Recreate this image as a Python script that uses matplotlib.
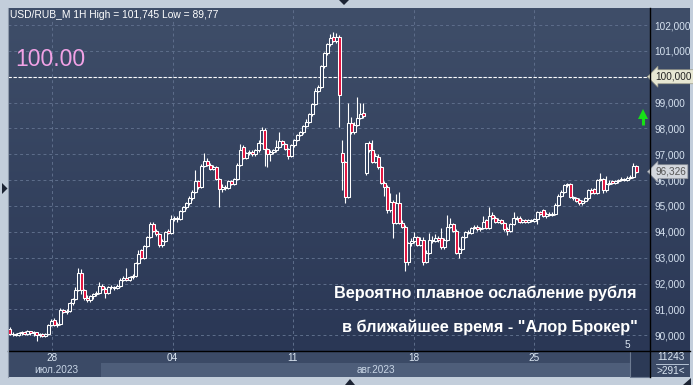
import matplotlib
matplotlib.use('Agg')
import matplotlib.pyplot as plt
import numpy as np
from matplotlib.patches import Rectangle, Polygon
from matplotlib.lines import Line2D
from matplotlib.collections import LineCollection
import matplotlib.transforms as mtransforms

plt.rcParams['font.family'] = ['Liberation Sans', 'DejaVu Sans']

# ---------------- data (USD/RUB_M 1H) ----------------
opens = [
    90.23, 90.04, 90.06, 90.02, 90.08, 90.12, 90.05, 90.15, 90.08, 90.12,
    90.02, 90.04, 89.98, 90.06, 90.40, 90.58, 90.40, 90.45, 90.97, 90.90,
    90.95, 91.25, 91.40, 91.75, 92.40, 91.74, 91.45, 91.35, 91.50, 91.60,
    91.62, 91.90, 91.80, 91.62, 91.85, 91.88, 91.82, 91.90, 92.15, 92.22,
    92.15, 92.25, 92.30, 92.80, 93.28, 93.00, 93.45, 93.80, 94.30, 94.05,
    93.90, 93.50, 93.65, 94.05, 93.95, 94.50, 94.55, 94.50, 94.80, 94.95,
    95.10, 95.30, 95.55, 95.95, 95.75, 96.55, 96.75, 96.60, 96.45, 96.50,
    96.05, 95.65, 95.75, 95.70, 95.95, 95.85, 96.05, 96.60, 97.28, 96.85,
    97.05, 97.10, 97.00, 97.15, 97.45, 97.95, 97.20, 97.00, 97.10, 97.15,
    97.30, 97.50, 97.40, 97.20, 96.95, 97.35, 97.55, 97.75, 97.85, 98.10,
    98.25, 98.55, 98.95, 99.45, 99.60, 100.40, 100.90, 101.25, 101.55, 101.40,
    101.55, 97.05, 96.70, 95.35, 98.20, 97.86, 98.15, 98.40, 98.60, 96.27,
    97.43, 97.16, 96.70, 96.90, 96.50, 95.88, 95.75, 94.84, 95.15, 94.35,
    95.10, 94.35, 94.20, 92.85, 93.55, 93.65, 93.80, 93.50, 93.70, 92.85,
    93.20, 93.70, 93.65, 93.75, 93.75, 93.40, 93.70, 94.20, 94.30, 94.05,
    93.20, 93.35, 93.80, 94.00, 93.95, 94.15, 94.20, 94.10, 94.15, 94.45,
    94.15, 94.65, 94.55, 94.40, 94.45, 94.35, 94.10, 94.05, 94.30, 94.55,
    94.55, 94.40, 94.45, 94.40, 94.45, 94.42, 94.50, 94.75, 94.85, 94.60,
    94.70, 94.65, 94.70, 95.05, 95.40, 95.55, 95.80, 95.85, 95.35, 95.30,
    95.25, 95.10, 95.20, 95.30, 95.60, 95.65, 95.50, 96.00, 96.05, 95.60,
    95.85, 95.95, 95.90, 95.95, 96.00, 96.05, 96.00, 96.10, 96.12, 96.55,
]
highs = [
    90.30, 90.12, 90.10, 90.14, 90.18, 90.15, 90.20, 90.18, 90.16, 90.14,
    90.08, 90.10, 90.10, 90.45, 90.62, 90.65, 90.50, 91.05, 91.02, 91.00,
    91.30, 91.45, 91.85, 92.60, 92.55, 91.80, 91.55, 91.55, 91.65, 91.70,
    92.05, 91.98, 91.85, 91.90, 91.95, 91.92, 91.98, 92.20, 92.30, 92.60,
    92.30, 92.35, 92.85, 93.30, 93.35, 93.50, 93.85, 94.40, 94.38, 94.12,
    93.95, 93.72, 94.05, 94.10, 94.65, 94.62, 94.60, 94.85, 95.00, 95.15,
    95.40, 95.62, 96.40, 96.02, 96.62, 97.05, 96.85, 96.68, 96.58, 96.55,
    96.10, 95.85, 95.80, 96.00, 96.02, 96.10, 96.68, 97.40, 97.35, 97.10,
    97.18, 97.15, 97.22, 97.55, 98.05, 98.00, 97.25, 97.15, 97.20, 97.55,
    97.86, 97.55, 97.45, 97.25, 97.40, 97.60, 97.80, 97.90, 98.15, 98.35,
    98.60, 99.00, 99.55, 99.70, 100.45, 100.95, 101.30, 101.65, 101.745, 101.70,
    101.60, 97.55, 96.75, 99.00, 98.45, 98.25, 99.20, 99.00, 99.00, 97.45,
    97.50, 97.55, 97.05, 97.00, 96.55, 95.95, 95.80, 95.50, 95.25, 95.45,
    95.55, 94.45, 94.25, 93.60, 93.75, 94.00, 93.85, 93.80, 93.80, 93.30,
    93.95, 93.85, 93.90, 93.85, 94.14, 93.75, 94.64, 94.55, 94.35, 94.10,
    93.40, 93.85, 94.05, 94.08, 94.20, 94.28, 94.25, 94.20, 94.60, 94.50,
    94.95, 94.75, 94.62, 94.52, 94.50, 94.40, 94.18, 94.35, 94.75, 94.62,
    94.60, 94.50, 94.50, 94.50, 94.50, 94.55, 94.80, 94.80, 94.90, 94.75,
    94.75, 94.75, 95.10, 95.45, 95.60, 95.85, 95.90, 95.88, 95.40, 95.35,
    95.30, 95.25, 95.35, 95.65, 95.68, 95.70, 96.05, 96.27, 96.10, 96.15,
    96.00, 96.00, 96.02, 96.05, 96.12, 96.10, 96.15, 96.18, 96.66, 96.60,
]
lows = [
    90.00, 89.98, 89.96, 89.98, 90.02, 90.00, 90.00, 90.02, 89.98, 89.77,
    89.92, 89.94, 89.95, 90.02, 90.35, 90.35, 90.32, 90.40, 90.85, 90.82,
    90.90, 91.18, 91.35, 91.70, 91.60, 91.38, 91.28, 91.30, 91.42, 91.52,
    91.58, 91.75, 91.45, 91.58, 91.78, 91.75, 91.78, 91.86, 92.10, 92.10,
    92.08, 92.18, 92.25, 92.75, 92.95, 92.95, 93.40, 93.75, 94.00, 93.85,
    93.40, 93.42, 93.60, 93.90, 93.90, 94.42, 94.40, 94.45, 94.75, 94.90,
    95.05, 95.25, 95.50, 95.65, 95.70, 96.50, 96.55, 96.40, 96.38, 96.00,
    94.95, 95.55, 95.60, 95.65, 95.80, 95.80, 96.00, 96.55, 96.80, 96.80,
    96.98, 96.92, 96.95, 97.10, 97.40, 96.55, 96.50, 96.75, 97.02, 97.10,
    97.25, 97.35, 97.15, 96.80, 96.90, 97.30, 97.50, 97.70, 97.80, 98.05,
    98.20, 98.50, 98.90, 99.40, 99.55, 100.35, 100.85, 101.20, 101.35, 101.30,
    98.05, 95.60, 95.10, 95.30, 97.80, 97.80, 98.10, 98.35, 98.40, 96.19,
    97.10, 96.65, 96.65, 96.45, 95.85, 95.40, 94.72, 94.75, 93.75, 94.30,
    94.30, 94.15, 92.50, 92.70, 93.45, 93.55, 93.45, 93.45, 92.70, 92.80,
    93.15, 93.55, 93.60, 93.62, 93.35, 93.35, 93.65, 94.15, 93.98, 93.15,
    93.00, 93.30, 93.75, 93.90, 93.90, 94.10, 94.05, 94.05, 94.10, 94.10,
    94.10, 94.50, 94.35, 94.35, 94.30, 94.05, 93.87, 94.00, 94.25, 94.45,
    94.35, 94.35, 94.35, 94.35, 94.38, 94.38, 94.30, 94.65, 94.58, 94.55,
    94.60, 94.60, 94.65, 95.00, 95.35, 95.50, 95.75, 95.30, 95.22, 95.15,
    95.05, 95.05, 95.15, 95.25, 95.45, 95.45, 95.45, 95.95, 95.50, 95.55,
    95.80, 95.85, 95.85, 95.90, 95.95, 95.95, 95.95, 96.05, 96.08, 96.28,
]
closes = [
    90.04, 90.06, 90.02, 90.08, 90.12, 90.05, 90.15, 90.08, 90.12, 90.02,
    90.04, 89.98, 90.06, 90.40, 90.55, 90.40, 90.45, 90.97, 90.90, 90.95,
    91.25, 91.40, 91.75, 92.40, 91.74, 91.45, 91.35, 91.50, 91.60, 91.62,
    91.90, 91.80, 91.62, 91.85, 91.88, 91.82, 91.90, 92.15, 92.20, 92.15,
    92.25, 92.30, 92.80, 93.15, 93.00, 93.45, 93.80, 94.30, 94.05, 93.90,
    93.50, 93.65, 94.00, 93.95, 94.50, 94.55, 94.50, 94.80, 94.95, 95.10,
    95.30, 95.55, 95.95, 95.75, 96.55, 96.75, 96.60, 96.45, 96.50, 96.05,
    95.65, 95.75, 95.70, 95.95, 95.85, 96.05, 96.60, 97.15, 96.85, 97.05,
    97.10, 97.00, 97.15, 97.45, 97.95, 97.20, 97.00, 97.10, 97.15, 97.30,
    97.50, 97.40, 97.20, 96.95, 97.35, 97.55, 97.75, 97.85, 98.10, 98.25,
    98.55, 98.95, 99.45, 99.60, 100.40, 100.90, 101.25, 101.50, 101.40, 101.55,
    99.30, 96.70, 95.35, 98.20, 97.86, 98.15, 98.40, 98.55, 98.50, 97.43,
    97.16, 96.70, 96.95, 96.50, 95.88, 95.75, 94.84, 95.15, 94.35, 95.10,
    94.35, 94.20, 92.85, 93.55, 93.65, 93.80, 93.50, 93.70, 92.85, 93.20,
    93.70, 93.65, 93.75, 93.70, 93.40, 93.70, 94.20, 94.30, 94.05, 93.20,
    93.35, 93.80, 94.00, 93.95, 94.15, 94.20, 94.10, 94.15, 94.40, 94.15,
    94.60, 94.55, 94.40, 94.45, 94.35, 94.10, 94.05, 94.30, 94.55, 94.50,
    94.40, 94.45, 94.40, 94.45, 94.42, 94.50, 94.75, 94.70, 94.60, 94.70,
    94.65, 94.70, 95.05, 95.40, 95.55, 95.80, 95.85, 95.35, 95.30, 95.20,
    95.10, 95.20, 95.30, 95.60, 95.50, 95.50, 96.00, 96.05, 95.60, 95.85,
    95.90, 95.90, 95.95, 96.00, 96.05, 96.00, 96.10, 96.12, 96.55, 96.326,
]

price_ticks = [90, 91, 92, 93, 94, 95, 96, 97, 98, 99, 100, 101, 102]
date_labels = ['28', '04', '11', '18', '25']
date_pos = [14.2, 54.4, 94.5, 134.8, 175.0]   # bar index of each week mark
month_labels = ['июл.2023', 'авг.2023']
title_text = 'USD/RUB_M 1H High = 101,745 Low = 89,77'
level_value = 100.0
last_value = 96.326
note_lines = ['Вероятно плавное ослабление рубля',
              'в ближайшее время - "Алор Брокер"']

# ---------------- figure ----------------
W, H = 693, 385
DPI = 100
fig = plt.figure(figsize=(W / DPI, H / DPI), dpi=DPI, facecolor='#c3cedb')

def fx(px):
    return px / W

def fy(py):
    return 1 - py / H

def frect(x0, y0, x1, y1, **kw):
    r = Rectangle((fx(x0), fy(y1)), fx(x1 - x0), (y1 - y0) / H,
                  transform=fig.transFigure, **kw)
    fig.add_artist(r)
    return r

PL, PR, PT, PB = 8, 650, 8, 351
RR, BB = 690, 377

# bottom time panel (drawn first, lowest)
frect(PL, PB, RR, BB, facecolor='#3b4a66', edgecolor='none', zorder=0.1)
frect(101, 363, 630, BB, facecolor='#4e5e7a', edgecolor='none', zorder=0.2)
frect(630, PB, PR, BB, facecolor='#2c3a56', edgecolor='#6d7b92', linewidth=0.8, zorder=0.3)

# gradient background for plot + right scale
bg = fig.add_axes([fx(PL), fy(PB), fx(RR - PL), (PB - PT) / H])
bg.set_zorder(0.5)
bg.set_axis_off()
top = np.array([0x3f, 0x4e, 0x69]) / 255
bot = np.array([0x2a, 0x37, 0x55]) / 255
t = np.linspace(0, 1, 256)[:, None]
grad = top[None, :] * (1 - t) + bot[None, :] * t
bg.imshow(grad[:, None, :], aspect='auto', extent=[0, 1, 0, 1])
bg.set_xlim(0, 1)
bg.set_ylim(0, 1)

# main axes
ax = fig.add_axes([fx(PL), fy(PB), fx(PR - PL), (PB - PT) / H])
ax.set_zorder(1)
ax.set_facecolor('none')
ax.set_xlim(-0.5, 213.5)
ax.set_ylim(89.39, 102.66)
for s in ax.spines.values():
    s.set_visible(False)

ax.set_yticks(price_ticks)
# the 100 level label is shown in its own box below
ax.set_yticklabels(['' if v == level_value else f'{v},000' for v in price_ticks])
ax.yaxis.tick_right()
ax.tick_params(axis='y', length=0, pad=3, labelsize=7.2, labelcolor='#d6e2f0')
ax.set_xticks(date_pos)
ax.set_xticklabels(date_labels)
ax.tick_params(axis='x', length=0, pad=1.5, labelsize=7.2, labelcolor='#dbe6f2')
ax.grid(True, color='#5e6e8b', linestyle=(0, (3, 3)), linewidth=0.7)
ax.set_axisbelow(True)

# level line at 100
ax.axhline(level_value, color='white', linestyle=(0, (3, 1.5)), linewidth=0.8, zorder=2)

# candles
o = np.array(opens); h = np.array(highs); l = np.array(lows); c = np.array(closes)
x = np.arange(len(o))
btm = np.minimum(o, c)
tp = np.maximum(o, c)
segs = []
for xi, lo, hi, b0, b1 in zip(x, l, h, btm, tp):
    segs.append([(xi, lo), (xi, b0)])
    segs.append([(xi, b1), (xi, hi)])
ax.add_collection(LineCollection(segs, colors='white', linewidths=0.8, zorder=3))
heights = np.maximum(tp - btm, 0.015)
face = ['#e2123e' if ci < oi else '#33425f' for oi, ci in zip(o, c)]
ax.bar(x, heights, bottom=btm, width=0.75, color=face, edgecolor='white',
       linewidth=0.75, zorder=4)

# texts
fig.text(fx(10), fy(15), title_text, color='white', fontsize=7.4, va='center', ha='left', zorder=5)
fig.text(fx(15), fy(60), '100.00', color='#f2a2e6', fontsize=16.5, va='center', ha='left', zorder=5)
fig.text(fx(636), fy(293), note_lines[0], color='white', fontsize=11.7, fontweight='bold',
         va='center', ha='right', zorder=5)
fig.text(fx(638), fy(327), note_lines[1], color='white', fontsize=11.7, fontweight='bold',
         va='center', ha='right', zorder=5)

# price boxes on right scale
trans = mtransforms.blended_transform_factory(ax.transAxes, ax.transData)
ax.text(1.0 + 5 / (PR - PL), level_value, '100,000', transform=trans, fontsize=7.2,
        color='#222222', va='center', ha='left', clip_on=False, zorder=6,
        bbox=dict(boxstyle='larrow,pad=0.2', facecolor='#e7e7d3', edgecolor='#9a9a88', linewidth=0.5))
ax.text(1.0 + 5 / (PR - PL), last_value, f'{last_value:.3f}'.replace('.', ','), transform=trans,
        fontsize=7.2, color='#555555', va='center', ha='left', clip_on=False, zorder=6,
        bbox=dict(boxstyle='larrow,pad=0.2', facecolor='#d3d7dd', edgecolor='#8a8f98', linewidth=0.5))

# green arrow (stem + head)
arrow_x, arrow_lo, arrow_hi = 211.2, 98.15, 98.45
ax.plot([arrow_x, arrow_x], [arrow_lo, arrow_hi], color='#16e016', lw=2.2,
        solid_capstyle='butt', clip_on=False, zorder=6)
ax.plot([arrow_x], [arrow_hi + 0.1], marker='^', markersize=7, color='#16e016',
        markeredgewidth=0, clip_on=False, zorder=6)

# month labels
fig.text(fx(56), fy(370), month_labels[0], color='#c9d6e6', fontsize=7.2, ha='center', va='center', zorder=5)
fig.text(fx(357), fy(370), month_labels[1], color='#c9d6e6', fontsize=7.2, ha='left', va='center', zorder=5)

# bottom right box
fig.text(fx(671), fy(357), '11243', color='#dbe6f2', fontsize=7.2, ha='center', va='center', zorder=5)
fig.text(fx(671), fy(371), '>291<', color='#dbe6f2', fontsize=7.2, ha='center', va='center', zorder=5)
fig.add_artist(Line2D([fx(656), fx(688)], [fy(364), fy(364)], color='#c9d6e6', lw=0.6, zorder=5))
fig.text(fx(627), fy(345), '5', color='#dbe6f2', fontsize=7.2, ha='center', va='center', zorder=5)

# separator lines
fig.add_artist(Line2D([fx(PR), fx(PR)], [fy(PT), fy(BB)], color='black', lw=1.0, zorder=5))
fig.add_artist(Line2D([fx(PL), fx(RR)], [fy(PB), fy(PB)], color='black', lw=1.0, zorder=5))
fig.add_artist(Line2D([fx(PL), fx(PL)], [fy(PT), fy(BB)], color='#8e9aab', lw=0.8, zorder=5))

# small frame triangles
for pts in ([(2, 183), (2, 194), (7.5, 188.5)],
            [(339, 0), (349, 0), (344, 5)],
            [(345, 385), (355, 385), (350, 379)],
            [(683, 385), (691, 385), (691, 378)]):
    fig.add_artist(Polygon([(fx(a), fy(b)) for a, b in pts], closed=True,
                           transform=fig.transFigure, facecolor='#1c2434', edgecolor='none', zorder=5))

fig.savefig('out.png', dpi=DPI, facecolor=fig.get_facecolor())
